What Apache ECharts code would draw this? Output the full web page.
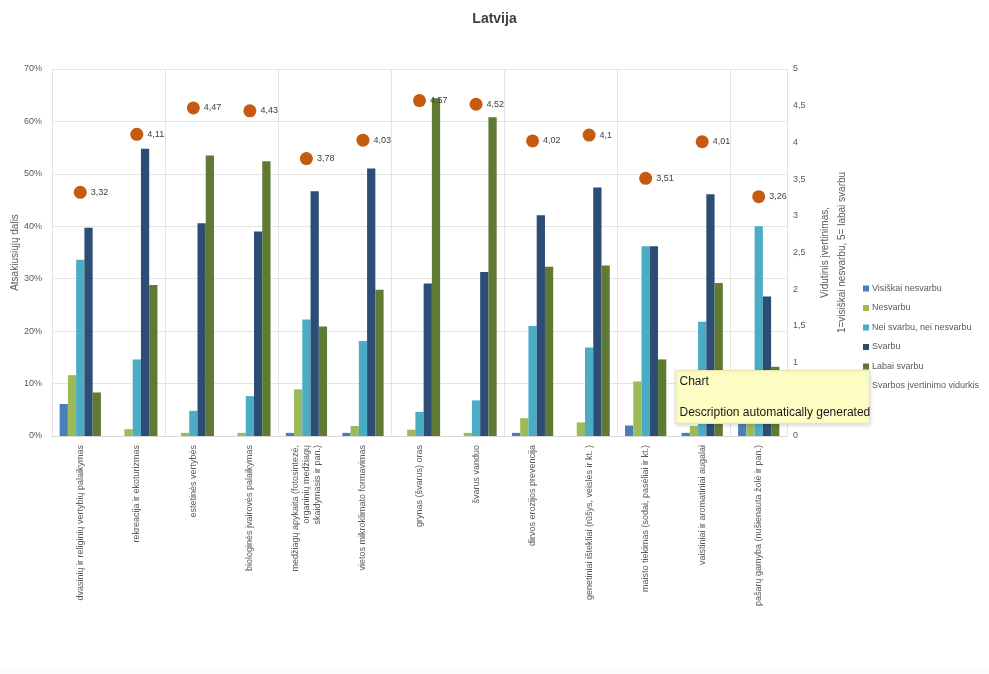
<!DOCTYPE html>
<html>
<head>
<meta charset="utf-8">
<title>Latvija</title>
<script src="https://cdn.jsdelivr.net/npm/echarts@6/dist/echarts.min.js"></script>
<style>
  html, body { margin: 0; padding: 0; background: #ffffff; }
  #chart { width: 989px; height: 674px; }
</style>
</head>
<body>
<div id="chart"></div>
<script>
// Ecosystem services – share of respondents by importance rating (left axis)
// and the mean importance score (right axis).
const categories = [
  'dvasinių ir religinių vertybių palaikymas',
  'rekreacija ir ekoturizmas',
  'estetinės vertybės',
  'biologinės įvairovės palaikymas',
  '   medžiagų apykaita (fotosintezė,\norganinių medžiagų\nskaidymasis ir pan.)',
  'vietos mikroklimato formavimas',
  'grynas (švarus) oras',
  'švarus vanduo',
  'dirvos erozijos prevencija',
  'genetiniai ištekliai (rūšys, veislės ir kt. )',
  'maisto tiekimas (sodai, pasėliai ir kt.)',
  'vaistiniai ir aromatiniai augalai',
  'pašarų gamyba (nušienauta žolė ir pan.)'
];

const seriesNames = [
  'Visiškai nesvarbu',
  'Nesvarbu',
  'Nei svarbu, nei nesvarbu',
  'Svarbu',
  'Labai svarbu'
];
const meanName = 'Svarbos įvertinimo vidurkis';

// Shares, %
const visiskaiNesvarbu = [6.1, 0, 0, 0, 0.6, 0.6, 0, 0, 0.6, 0, 2.0, 0.6, 7.5];
const nesvarbu         = [11.6, 1.3, 0.6, 0.6, 8.9, 1.9, 1.2, 0.6, 3.4, 2.6, 10.4, 1.9, 12.5];
const neiSvarbu        = [33.6, 14.6, 4.8, 7.6, 22.2, 18.1, 4.6, 6.8, 21.0, 16.9, 36.2, 21.8, 40.0];
const svarbu           = [39.7, 54.8, 40.6, 39.0, 46.7, 51.0, 29.1, 31.3, 42.1, 47.4, 36.2, 46.1, 26.6];
const labaiSvarbu      = [8.3, 28.8, 53.5, 52.4, 20.9, 27.9, 64.4, 60.8, 32.3, 32.5, 14.6, 29.2, 13.2];

// Mean score, 1 = visiškai nesvarbu ... 5 = labai svarbu
const vidurkis = [3.32, 4.11, 4.47, 4.43, 3.78, 4.03, 4.57, 4.52, 4.02, 4.1, 3.51, 4.01, 3.26];

const leftTicks = [0, 10, 20, 30, 40, 50, 60, 70];
const rightTicks = [0, 0.5, 1, 1.5, 2, 2.5, 3, 3.5, 4, 4.5, 5];

const barColors = ['#4a7ebb', '#9bbb59', '#4bacc6', '#2c4d75', '#5f7a32'];
const meanColor = '#c55a11';
const textColor = '#595959';
const fontFamily = '"Liberation Sans", "DejaVu Sans", sans-serif';

const comma = v => String(v).replace('.', ',');

const barData = [visiskaiNesvarbu, nesvarbu, neiSvarbu, svarbu, labaiSvarbu];

const series = barData.map((vals, i) => ({
  name: seriesNames[i],
  type: 'bar',
  yAxisIndex: 0,
  data: vals,
  itemStyle: { color: barColors[i] },
  barGap: '0%',
  barCategoryGap: '27%',
  emphasis: { disabled: true }
}));

series.push({
  name: meanName,
  type: 'scatter',
  yAxisIndex: 1,
  data: vidurkis,
  symbol: 'circle',
  symbolSize: 13,
  itemStyle: { color: meanColor, opacity: 1 },
  label: {
    show: true,
    position: 'right',
    distance: 4,
    fontSize: 9,
    fontFamily: fontFamily,
    color: '#404040',
    formatter: p => comma(p.value)
  },
  z: 5
});

const chart = echarts.init(document.getElementById('chart'), null, { renderer: 'canvas' });

chart.setOption({
  animation: false,
  backgroundColor: '#ffffff',
  title: {
    text: 'Latvija',
    left: 'center',
    top: 7,
    textStyle: { fontSize: 14, fontWeight: 'bold', color: '#404040', fontFamily: fontFamily }
  },
  legend: {
    orient: 'vertical',
    left: 858,
    top: 279,
    itemWidth: 6,
    itemHeight: 6,
    itemGap: 10.5,
    icon: 'rect',
    textStyle: { fontSize: 9, color: textColor, fontFamily: fontFamily, padding: [0, 0, 0, -2] },
    data: seriesNames.map(n => ({ name: n })).concat([{ name: meanName, icon: 'circle' }])
  },
  grid: { left: 52, right: 202, top: 69, bottom: 238, outerBoundsMode: 'none' },
  xAxis: {
    type: 'category',
    data: categories,
    axisLine: { show: true, lineStyle: { color: '#d9d9d9' } },
    axisTick: { show: false },
    splitLine: { show: true, interval: 1, lineStyle: { color: '#e4e4e4' } },
    axisLabel: {
      interval: 0,
      rotate: 90,
      margin: 9,
      fontSize: 9,
      lineHeight: 11,
      color: textColor,
      fontFamily: fontFamily
    }
  },
  yAxis: [
    {
      type: 'value',
      min: 0,
      max: 70,
      interval: 10,
      position: 'left',
      name: 'Atsakiusiųjų dalis',
      nameLocation: 'middle',
      nameGap: 32,
      nameMoveOverlap: false,
      nameRotate: 90,
      nameTextStyle: { fontSize: 10, color: textColor, fontFamily: fontFamily },
      axisLine: { show: false },
      axisTick: { show: false },
      splitLine: { show: true, lineStyle: { color: '#e4e4e4' } },
      axisLabel: {
        fontSize: 9,
        color: textColor,
        margin: 10,
        fontFamily: fontFamily,
        formatter: v => (leftTicks.includes(v) ? v + '%' : '')
      }
    },
    {
      type: 'value',
      min: 0,
      max: 5,
      interval: 0.5,
      position: 'right',
      name: 'Vidutinis įvertinimas,\n1=visiškai nesvarbu, 5= labai svarbu',
      nameLocation: 'middle',
      nameGap: 30,
      nameRotate: 90,
      nameTextStyle: { fontSize: 10, color: textColor, fontFamily: fontFamily, lineHeight: 17 },
      axisLine: { show: false },
      axisTick: { show: false },
      splitLine: { show: false },
      axisLabel: {
        fontSize: 9,
        color: textColor,
        margin: 6,
        fontFamily: fontFamily,
        formatter: v => (rightTicks.includes(v) ? comma(v) : '')
      }
    }
  ],
  series: series,
  graphic: [
    {
      // faint strip along the bottom edge
      type: 'rect',
      shape: { x: 0, y: 667, width: 989, height: 7 },
      style: { fill: '#fcfcfc' },
      silent: true
    },
    {
      // pop-up note box, drawn above the plot
      type: 'group',
      left: 675,
      top: 370,
      zlevel: 2,
      children: [
        {
          type: 'rect',
          zlevel: 2,
          z: 100,
          shape: { x: 0, y: 0, width: 194, height: 53 },
          style: {
            fill: '#fefec4',
            stroke: '#e6e6b0',
            lineWidth: 1,
            shadowBlur: 4,
            shadowColor: 'rgba(0,0,0,0.15)',
            shadowOffsetY: 1
          }
        },
        {
          type: 'text',
          zlevel: 2,
          z: 101,
          x: 4,
          y: 5,
          style: { text: 'Chart', fontSize: 12, fill: '#1a1a1a', fontFamily: fontFamily }
        },
        {
          type: 'text',
          zlevel: 2,
          z: 101,
          x: 4,
          y: 36,
          style: { text: 'Description automatically generated', fontSize: 12, fill: '#1a1a1a', fontFamily: fontFamily }
        }
      ]
    }
  ]
});
</script>
</body>
</html>
